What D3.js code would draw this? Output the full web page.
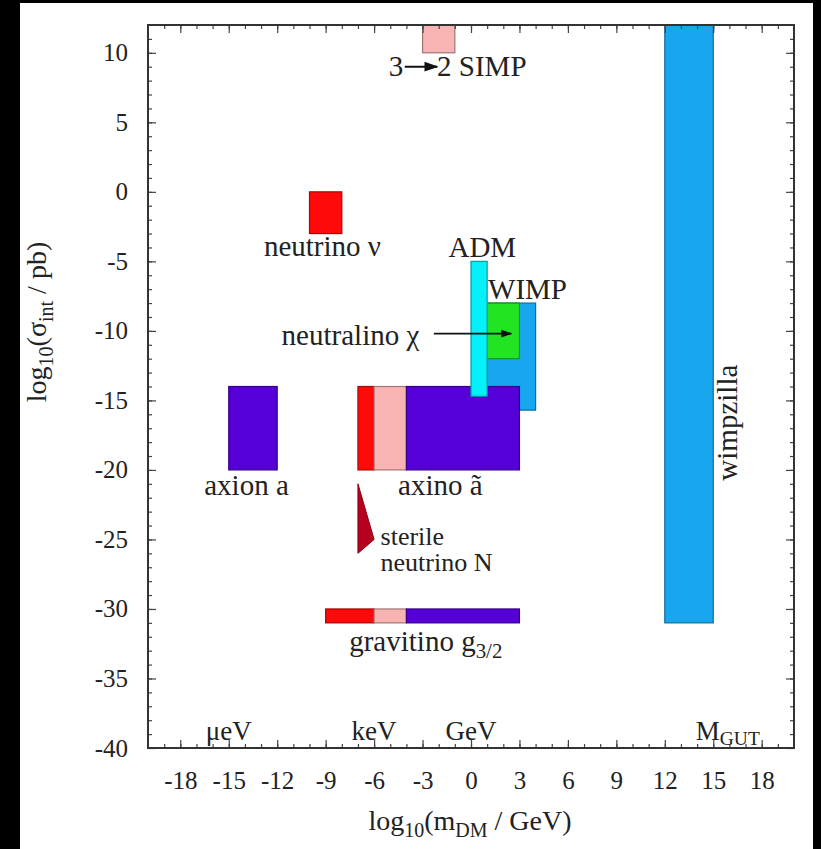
<!DOCTYPE html>
<html>
<head>
<meta charset="utf-8">
<script src="https://cdn.jsdelivr.net/npm/d3@7/dist/d3.min.js"></script>
<style>
  body { margin: 0; background: #000; }
  svg text { font-family: "Liberation Serif", "Times New Roman", serif; fill: #222; }
</style>
</head>
<body>
<div id="chart"></div>
<script>
// log10(m / GeV) and log10(sigma / pb) ranges of each candidate
const boxNames = ["wimpzilla", "WIMP", "neutralino", "axino hot", "axino warm", "axino cold",
                  "ADM", "axion", "neutrino", "SIMP", "gravitino hot", "gravitino warm", "gravitino cold"];
const boxKinds = ["wimpzilla", "wimp", "neutralino", "hot", "warm", "cold",
                  "adm", "cold", "hot", "warm", "hot", "warm", "cold"];
const massLow  = [12, 1, 1, -7, -6, -4, 0, -15, -10, -3, -9, -6, -4];
const massHigh = [15, 4, 3, -6, -4, 3, 1, -12, -8, -1, -6, -4, 3];
const sigmaLow  = [-31, -15.7, -12, -20, -20, -20, -14.7, -20, -3, 10, -31, -31, -31];
const sigmaHigh = [12, -8, -8, -14, -14, -14, -5, -14, 0, 12, -30, -30, -30];

// sterile neutrino wedge
const sterileMass  = [-7, -6, -7];
const sterileSigma = [-21, -25, -26];

const xTicks = d3.range(-18, 19, 3);
const yTicks = d3.range(-40, 11, 5);

const kinds  = ["hot", "warm", "cold", "wimp", "neutralino", "adm", "wimpzilla"];
const colors = ["#ff0a0a", "#f8b3b3", "#5500d6", "#18a6ee", "#22e422", "#05f0f8", "#18a6ee"];
const color = d3.scaleOrdinal().domain(kinds).range(colors);

const width = 821, height = 849;
const svg = d3.select("#chart").append("svg")
    .attr("width", width)
    .attr("height", height);

svg.append("rect")
    .attr("x", 20).attr("y", 3)
    .attr("width", 793).attr("height", 846)
    .attr("fill", "#fff");

const x = d3.scaleLinear().domain([-20, 20]).range([148, 794]);
const y = d3.scaleLinear().domain([-40, 12]).range([748, 25]);

const defs = svg.append("defs");
defs.append("marker")
    .attr("id", "head")
    .attr("viewBox", "0 0 10 10")
    .attr("refX", 9).attr("refY", 5)
    .attr("markerWidth", 7).attr("markerHeight", 7)
    .attr("orient", "auto")
    .append("path")
    .attr("d", "M0,1.5L10,5L0,8.5Z")
    .attr("fill", "#111");

// boxes
const boxData = boxNames.map((n, i) => ({
    name: n, kind: boxKinds[i],
    x0: massLow[i], x1: massHigh[i], y0: sigmaLow[i], y1: sigmaHigh[i]
}));

svg.append("g").selectAll("rect")
    .data(boxData)
    .join("rect")
    .attr("x", d => x(d.x0))
    .attr("y", d => y(d.y1))
    .attr("width", d => x(d.x1) - x(d.x0))
    .attr("height", d => y(d.y0) - y(d.y1))
    .attr("fill", d => color(d.kind))
    .attr("stroke", d => d3.color(color(d.kind)).darker(1.2))
    .attr("stroke-width", 1.2);

svg.append("path")
    .datum(sterileMass.map((m, i) => [m, sterileSigma[i]]))
    .attr("d", d3.line().x(d => x(d[0])).y(d => y(d[1])).curve(d3.curveLinearClosed))
    .attr("fill", "#b5001e")
    .attr("stroke", "#8a0016")
    .attr("stroke-width", 1);

// axes: major and minor ticks pointing inwards on all four sides
function ticks(axis, pos, vals, size, labels) {
    const g = svg.append("g")
        .attr("transform", pos)
        .call(axis.tickValues(vals).tickSize(-size)
            .tickFormat(labels ? (d => String(d)) : ""));
    g.select(".domain").remove();
    g.selectAll("line").attr("stroke", "#444").attr("stroke-width", 1.2);
    g.selectAll("text").attr("font-size", 25).attr("fill", "#222")
        .attr("font-family", "Liberation Serif, serif");
    return g;
}

ticks(d3.axisBottom(x).tickPadding(23), "translate(0,748)", xTicks, 8, true);
ticks(d3.axisBottom(x), "translate(0,748)", d3.range(-19, 20), 4, false);
ticks(d3.axisTop(x), "translate(0,25)", xTicks, 8, false);
ticks(d3.axisTop(x), "translate(0,25)", d3.range(-19, 20), 4, false);
ticks(d3.axisLeft(y).tickPadding(20), "translate(148,0)", yTicks, 8, true);
ticks(d3.axisLeft(y), "translate(148,0)", d3.range(-39, 12), 4, false);
ticks(d3.axisRight(y), "translate(794,0)", yTicks, 8, false);
ticks(d3.axisRight(y), "translate(794,0)", d3.range(-39, 12), 4, false);

svg.append("rect")
    .attr("x", 148).attr("y", 25)
    .attr("width", 794 - 148).attr("height", 748 - 25)
    .attr("fill", "none")
    .attr("stroke", "#333")
    .attr("stroke-width", 2);

// labels, given in data coordinates
function label(mx, sy, parts, size, anchor, rot) {
    const t = svg.append("text")
        .attr("font-size", size)
        .attr("text-anchor", anchor || "middle")
        .attr("transform", `translate(${x(mx)},${y(sy)})` + (rot ? ` rotate(${rot})` : ""));
    parts.forEach(p => {
        if (typeof p === "string") t.append("tspan").text(p);
        else t.append("tspan").attr("font-size", size * 0.72).attr("dy", p.dy).text(p.t);
    });
    return t;
}

label(-9.2, -4.6, ["neutrino \u03bd"], 29);
label(0.7, -4.7, ["ADM"], 29);
label(3.5, -7.7, ["WIMP"], 29);
label(-3.2, -11.0, ["neutralino \u03c7"], 29, "end");
label(-13.9, -21.8, ["axion a"], 29);
label(-1.9, -21.8, ["axino \u00e3"], 29);
label(-5.6, -25.4, ["sterile"], 26, "start");
label(-5.6, -27.3, ["neutrino N"], 26, "start");
label(-2.8, -33.0, ["gravitino g", {t: "3/2", dy: 7}], 29);
label(16.5, -16.6, ["wimpzilla"], 29, "middle", -90);

// SIMP label with its arrow
label(-4.2, 8.3, ["3"], 29, "end");
label(-2.1, 8.3, ["2 SIMP"], 29, "start");
svg.append("line")
    .attr("x1", x(-4.1)).attr("x2", x(-2.1))
    .attr("y1", y(9.0)).attr("y2", y(9.0))
    .attr("stroke", "#111").attr("stroke-width", 2)
    .attr("marker-end", "url(#head)");

// neutralino arrow
svg.append("line")
    .attr("x1", x(-2.3)).attr("x2", x(2.5))
    .attr("y1", y(-10.2)).attr("y2", y(-10.2))
    .attr("stroke", "#111").attr("stroke-width", 1.6)
    .attr("marker-end", "url(#head)");

// mass scale marks along the bottom
label(-15, -39.4, ["\u03bceV"], 27);
label(-6, -39.4, ["keV"], 27);
label(0, -39.4, ["GeV"], 27);
label(15.9, -39.4, ["M", {t: "GUT", dy: 5}], 27);

// axis titles
svg.append("text")
    .attr("x", 470).attr("y", 830)
    .attr("text-anchor", "middle")
    .attr("font-size", 28)
    .call(t => {
        t.append("tspan").text("log");
        t.append("tspan").attr("font-size", 20).attr("dy", 7).text("10");
        t.append("tspan").attr("dy", -7).text("(m");
        t.append("tspan").attr("font-size", 20).attr("dy", 7).text("DM");
        t.append("tspan").attr("dy", -7).text(" / GeV)");
    });

svg.append("text")
    .attr("transform", "translate(46,322) rotate(-90)")
    .attr("text-anchor", "middle")
    .attr("font-size", 28)
    .call(t => {
        t.append("tspan").text("log");
        t.append("tspan").attr("font-size", 20).attr("dy", 7).text("10");
        t.append("tspan").attr("dy", -7).text("(\u03c3");
        t.append("tspan").attr("font-size", 20).attr("dy", 7).text("int");
        t.append("tspan").attr("dy", -7).text(" / pb)");
    });
</script>
</body>
</html>
